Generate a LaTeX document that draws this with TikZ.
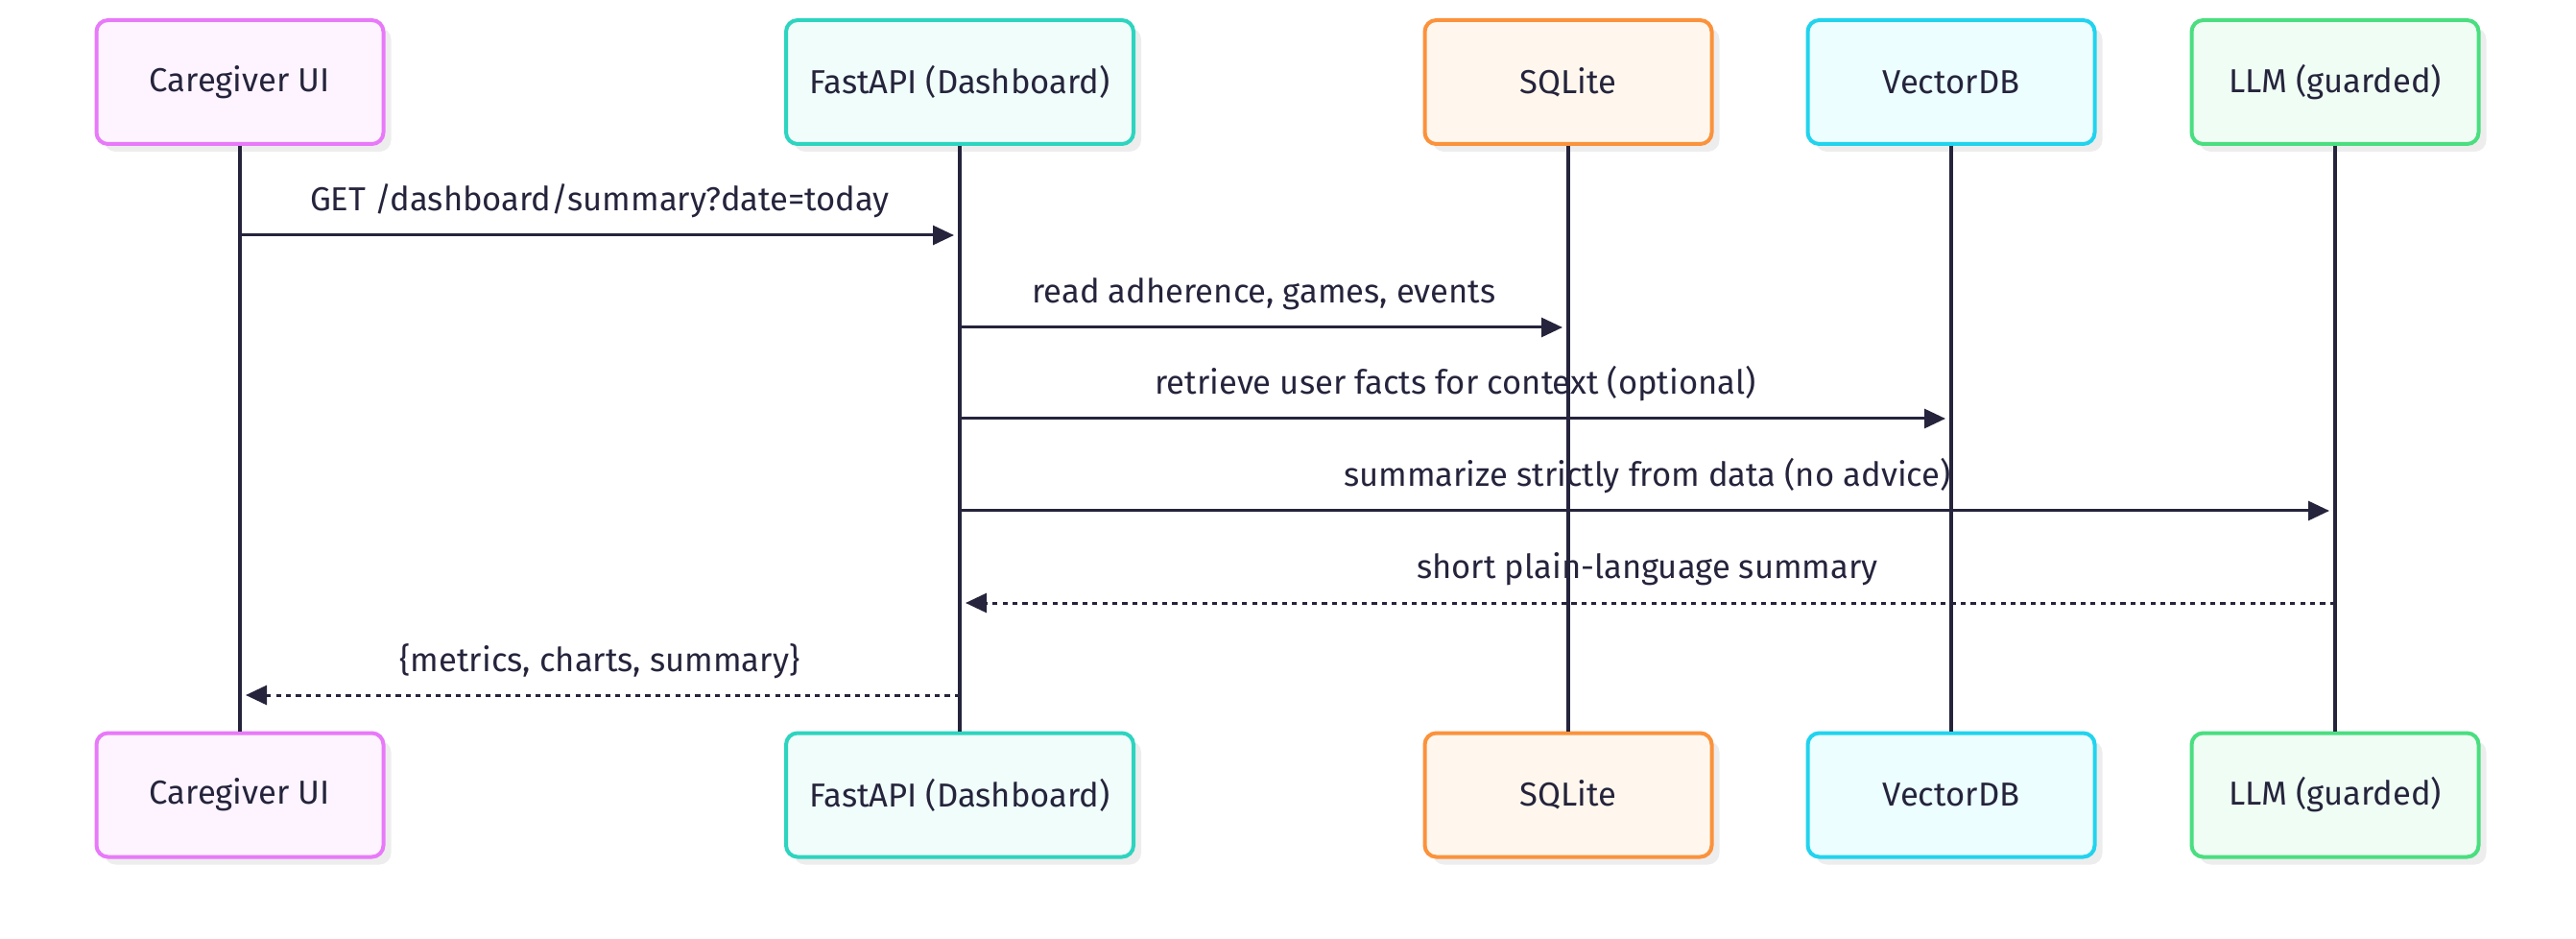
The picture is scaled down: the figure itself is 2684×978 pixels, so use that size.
\documentclass[tikz,border=0pt]{standalone}
\usepackage{fontspec}
\setmainfont{Fira Sans}
\usetikzlibrary{arrows.meta, shadows}

\definecolor{ink}{HTML}{25243C}
\definecolor{cgline}{HTML}{E879F9}  \definecolor{cgfill}{HTML}{FDF4FF}
\definecolor{apiline}{HTML}{2DD4BF} \definecolor{apifill}{HTML}{F0FDFA}
\definecolor{sqlline}{HTML}{FB923C} \definecolor{sqlfill}{HTML}{FFF7ED}
\definecolor{vecline}{HTML}{22D3EE} \definecolor{vecfill}{HTML}{ECFEFF}
\definecolor{llmline}{HTML}{4ADE80} \definecolor{llmfill}{HTML}{F0FDF4}

\begin{document}
\begin{tikzpicture}[x=0.5pt, y=-0.5pt,
	font=\fontsize{17.3}{20}\selectfont, text=ink,
	actor/.style={draw=#1line, fill=#1fill, line width=2pt, rounded corners=6pt,
		minimum height=64.5pt,
		drop shadow={shadow xshift=4pt, shadow yshift=-4pt, fill=black!7, opacity=1}},
	lifeline/.style={draw=ink, line width=1.6pt},
	call/.style={draw=ink, line width=1.5pt, shorten >=3pt, -{Triangle[length=11pt, width=10pt]}},
	reply/.style={call, dash pattern=on 2.6pt off 2.6pt}]
	
	\useasboundingbox (0,0) rectangle (2684,978);
	
	% participants, top and bottom
	\foreach \name/\xpos/\wide/\title in {cg/250/149.5/Caregiver UI, api/1000/181/FastAPI (Dashboard),
		sql/1634/149.5/SQLite, vec/2033/149.5/VectorDB, llm/2433/149.5/LLM (guarded)}
	{
		\node[actor=\name, minimum width=\wide pt] (\name) at (\xpos,85.5) {\title};
		\node[actor=\name, minimum width=\wide pt] (\name b) at (\xpos,828) {\title};
		\draw[lifeline] (\name.south) -- (\name b.north);
	}
	
	% messages
	\foreach \ypos/\src/\dst/\txt/\kind in {
		245/cg/api/{GET /dashboard/summary?date=today}/call,
		341/api/sql/{read adherence, games, events}/call,
		436/api/vec/{retrieve user facts for context (optional)}/call,
		532/api/llm/{summarize strictly from data (no advice)}/call,
		628/llm/api/{short plain-language summary}/reply,
		724/api/cg/{\{metrics, charts, summary\}}/reply}
	{
		\draw[\kind] (\src |- 0,\ypos) -- node[midway, anchor=base, yshift=12.5pt] {\txt} (\dst |- 0,\ypos);
	}
	
\end{tikzpicture}
\end{document}
